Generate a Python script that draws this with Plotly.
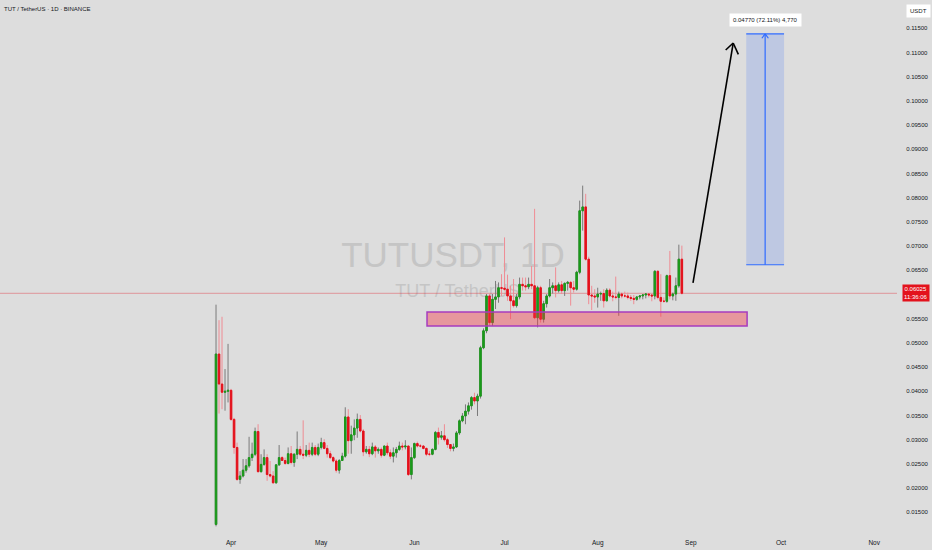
import pandas as pd
import plotly.graph_objects as go

# TUT/USDT daily candles, 2025-03-27 .. 2025-08-29
first_open = 0.0125
close = [
    0.0477, 0.0415, 0.0398, 0.0400, 0.0402,
    0.0342, 0.0284, 0.0218, 0.0225, 0.0237, 0.0246, 0.0263, 0.0270, 0.0317, 0.0234,
    0.0249, 0.0263, 0.0228, 0.0225, 0.0211, 0.0248, 0.0263, 0.0257, 0.0251, 0.0271,
    0.0253, 0.0270, 0.0280, 0.0270, 0.0268, 0.0278, 0.0270, 0.0284, 0.0270, 0.0284,
    0.0294, 0.0282, 0.0271, 0.0263, 0.0256, 0.0237, 0.0257, 0.0266, 0.0347, 0.0298,
    0.0310, 0.0324, 0.0342, 0.0318, 0.0275, 0.0280, 0.0271, 0.0285, 0.0277, 0.0280,
    0.0268, 0.0287, 0.0273, 0.0266, 0.0273, 0.0280, 0.0287, 0.0285, 0.0287, 0.0228, 0.0263,
    0.0292, 0.0287, 0.0287, 0.0282, 0.0270, 0.0270, 0.0280, 0.0315, 0.0305, 0.0308,
    0.0300, 0.0290, 0.0282, 0.0285, 0.0314, 0.0339, 0.0349, 0.0359, 0.0370, 0.0387,
    0.0380, 0.0390, 0.0490, 0.0525, 0.0597, 0.0542, 0.0590, 0.0595, 0.0614, 0.0613,
    0.0611, 0.0597, 0.0587, 0.0577, 0.0595, 0.0621, 0.0618, 0.0616, 0.0621, 0.0618,
    0.0552, 0.0614, 0.0549, 0.0581, 0.0597, 0.0614, 0.0618, 0.0608, 0.0620, 0.0608,
    0.0623, 0.0625, 0.0614, 0.0611, 0.0646, 0.0773, 0.0781, 0.0673, 0.0599, 0.0597, 0.0595,
    0.0601, 0.0602, 0.0587, 0.0609, 0.0597, 0.0595, 0.0594, 0.0601, 0.0597, 0.0597,
    0.0594, 0.0592, 0.0590, 0.0595, 0.0597, 0.0599, 0.0601, 0.0599, 0.0597, 0.0648,
    0.0594, 0.0586, 0.0586, 0.0639, 0.0597, 0.0601, 0.0618, 0.0673, 0.06025,
]
high = [
    0.0579, 0.0547, 0.0554, 0.0446, 0.0498,
    0.0405, 0.0345, 0.0294, 0.0235, 0.0260, 0.0260, 0.0306, 0.0294, 0.0325, 0.0332,
    0.0270, 0.0280, 0.0270, 0.0256, 0.0235, 0.0249, 0.0289, 0.0266, 0.0263, 0.0284,
    0.0287, 0.0272, 0.0317, 0.0287, 0.0340, 0.0289, 0.0294, 0.0294, 0.0289, 0.0292,
    0.0304, 0.0301, 0.0289, 0.0277, 0.0266, 0.0260, 0.0260, 0.0273, 0.0367, 0.0363,
    0.0329, 0.0342, 0.0354, 0.0351, 0.0322, 0.0287, 0.0287, 0.0294, 0.0289, 0.0284,
    0.0284, 0.0287, 0.0294, 0.0280, 0.0284, 0.0285, 0.0296, 0.0294, 0.0299, 0.0287, 0.0284,
    0.0294, 0.0296, 0.0291, 0.0289, 0.0284, 0.0277, 0.0282, 0.0318, 0.0325, 0.0318,
    0.0332, 0.0304, 0.0290, 0.0292, 0.0318, 0.0342, 0.0355, 0.0373, 0.0377, 0.0390,
    0.0397, 0.0395, 0.0494, 0.0530, 0.0601, 0.0601, 0.0601, 0.0628, 0.0625, 0.0642,
    0.0718, 0.0641, 0.0618, 0.0632, 0.0601, 0.0635, 0.0635, 0.0635, 0.0635, 0.0659,
    0.0777, 0.0618, 0.0618, 0.0587, 0.0601, 0.0632, 0.0625, 0.0656, 0.0625, 0.0628,
    0.0625, 0.0628, 0.0628, 0.0628, 0.0649, 0.0794, 0.0825, 0.0808, 0.0678, 0.0618, 0.0611,
    0.0614, 0.0606, 0.0611, 0.0613, 0.0613, 0.0606, 0.0637, 0.0606, 0.0604, 0.0606,
    0.0604, 0.0599, 0.0599, 0.0597, 0.0599, 0.0601, 0.0602, 0.0602, 0.0601, 0.0650,
    0.0650, 0.0642, 0.0594, 0.0641, 0.0690, 0.0604, 0.0635, 0.0703, 0.0701,
]
low = [
    0.0121, 0.0354, 0.0363, 0.0360, 0.0377,
    0.0339, 0.0271, 0.0215, 0.0209, 0.0222, 0.0232, 0.0242, 0.0256, 0.0266, 0.0232,
    0.0232, 0.0246, 0.0215, 0.0222, 0.0209, 0.0209, 0.0246, 0.0256, 0.0248, 0.0249,
    0.0249, 0.0244, 0.0260, 0.0266, 0.0260, 0.0264, 0.0264, 0.0266, 0.0266, 0.0266,
    0.0280, 0.0280, 0.0263, 0.0260, 0.0253, 0.0232, 0.0230, 0.0256, 0.0263, 0.0271,
    0.0271, 0.0299, 0.0304, 0.0315, 0.0266, 0.0271, 0.0264, 0.0268, 0.0263, 0.0271,
    0.0263, 0.0266, 0.0268, 0.0260, 0.0253, 0.0263, 0.0277, 0.0278, 0.0280, 0.0225, 0.0218,
    0.0260, 0.0284, 0.0284, 0.0280, 0.0266, 0.0266, 0.0268, 0.0278, 0.0290, 0.0300,
    0.0296, 0.0283, 0.0276, 0.0276, 0.0283, 0.0310, 0.0336, 0.0332, 0.0352, 0.0362,
    0.0373, 0.0349, 0.0385, 0.0487, 0.0520, 0.0535, 0.0535, 0.0570, 0.0583, 0.0597,
    0.0608, 0.0587, 0.0549, 0.0573, 0.0573, 0.0590, 0.0608, 0.0608, 0.0611, 0.0611,
    0.0549, 0.0532, 0.0542, 0.0542, 0.0573, 0.0594, 0.0602, 0.0594, 0.0604, 0.0601,
    0.0597, 0.0608, 0.0577, 0.0604, 0.0608, 0.0642, 0.0732, 0.0670, 0.0580, 0.0568, 0.0583,
    0.0573, 0.0587, 0.0573, 0.0586, 0.0594, 0.0586, 0.0590, 0.0556, 0.0592, 0.0594,
    0.0590, 0.0587, 0.0580, 0.0587, 0.0590, 0.0590, 0.0592, 0.0594, 0.0586, 0.0590,
    0.0590, 0.0554, 0.0583, 0.0583, 0.0590, 0.0588, 0.0587, 0.0614, 0.0600,
]
start_date = "2025-03-27"

# drawings on the chart
last_price = 0.06025
countdown = "11:36:06"
zone_dates = ["2025-06-05 05:00", "2025-09-19 17:00"]
zone_prices = [0.05349, 0.05638]
target_dates = ["2025-09-19 10:00", "2025-10-02 00:00"]
target_prices = [0.06615, 0.11385]
target_label = "0.04770 (72.11%) 4,770"
arrow_dates = ["2025-09-01 17:00", "2025-09-15 02:00"]
arrow_prices = [0.06238, 0.11196]
arrow_wing_dates = ["2025-09-12 14:00", "2025-09-16 19:00"]
arrow_wing_prices = [0.11052, 0.10963]

month_ticks = ["2025-04-01", "2025-05-01", "2025-06-01", "2025-07-01",
               "2025-08-01", "2025-09-01", "2025-10-01", "2025-11-01"]
month_labels = ["Apr", "May", "Jun", "Jul", "Aug", "Sep", "Oct", "Nov"]
# 0.06000 is hidden behind the last-price tag on the original
price_labels = ["0.01500", "0.02000", "0.02500", "0.03000", "0.03500", "0.04000",
                "0.04500", "0.05000", "0.05500", "0.06500", "0.07000",
                "0.07500", "0.08000", "0.08500", "0.09000", "0.09500", "0.10000",
                "0.10500", "0.11000", "0.11500"]

BG = "#dddddd"
UP = "#1b9a1b"
DOWN = "#e3121c"
FONT = "Liberation Sans, Arial, sans-serif"

dates = pd.date_range(start_date, periods=len(close), freq="D")
opens = [first_open] + close[:-1]
body_hi = [max(o, c) for o, c in zip(opens, close)]
body_lo = [min(o, c) for o, c in zip(opens, close)]

fig = go.Figure()
# wicks (grey for up days, pink for down days)
fig.add_trace(go.Candlestick(
    x=dates, open=opens, high=high, low=low, close=close,
    increasing=dict(line=dict(color="#7a7a7a", width=1), fillcolor=UP),
    decreasing=dict(line=dict(color="#ef8c94", width=1), fillcolor=DOWN),
    whiskerwidth=0, hoverinfo="skip"))
# bodies on top
fig.add_trace(go.Candlestick(
    x=dates, open=opens, high=body_hi, low=body_lo, close=close,
    increasing=dict(line=dict(color=UP, width=1), fillcolor=UP),
    decreasing=dict(line=dict(color=DOWN, width=1), fillcolor=DOWN),
    whiskerwidth=0))

mid_target = pd.Timestamp(target_dates[0]) + (pd.Timestamp(target_dates[1]) - pd.Timestamp(target_dates[0])) / 2

shapes = [
    # watermark
    dict(type="rect", xref="paper", yref="paper", x0=0.25, x1=0.76, y0=0.48, y1=0.575,
         line=dict(width=0), fillcolor="rgba(0,0,0,0)", layer="below",
         label=dict(text="TUTUSDT, 1D", font=dict(size=35, color="#c5c5c5", family=FONT),
                    textposition="middle center")),
    dict(type="rect", xref="paper", yref="paper", x0=0.355, x1=0.665, y0=0.43, y1=0.485,
         line=dict(width=0), fillcolor="rgba(0,0,0,0)", layer="below",
         label=dict(text="TUT / TetherUS", font=dict(size=18, color="#c5c5c5", family=FONT),
                    textposition="middle center")),
    # last price line
    dict(type="line", xref="paper", x0=0, x1=1, yref="y", y0=last_price, y1=last_price,
         line=dict(color="rgba(227,18,28,0.35)", width=1), layer="below"),
    # support zone
    dict(type="rect", x0=zone_dates[0], x1=zone_dates[1], y0=zone_prices[0], y1=zone_prices[1],
         fillcolor="rgba(242,54,69,0.42)", line=dict(color="#a63cbf", width=1.5)),
    # target box
    dict(type="rect", x0=target_dates[0], x1=target_dates[1], y0=target_prices[0], y1=target_prices[1],
         fillcolor="rgba(41,98,255,0.17)", line=dict(width=0)),
    dict(type="line", x0=target_dates[0], x1=target_dates[1], y0=target_prices[0], y1=target_prices[0],
         line=dict(color="#2f6bff", width=1.2)),
    dict(type="line", x0=target_dates[0], x1=target_dates[1], y0=target_prices[1], y1=target_prices[1],
         line=dict(color="#2f6bff", width=1.2)),
    dict(type="line", x0=mid_target, x1=mid_target, y0=target_prices[0], y1=target_prices[1],
         line=dict(color="#2f6bff", width=1.2)),
    dict(type="line", x0=mid_target - pd.Timedelta(hours=26), x1=mid_target,
         y0=target_prices[1] - 0.0009, y1=target_prices[1], line=dict(color="#2f6bff", width=1.2)),
    dict(type="line", x0=mid_target + pd.Timedelta(hours=26), x1=mid_target,
         y0=target_prices[1] - 0.0009, y1=target_prices[1], line=dict(color="#2f6bff", width=1.2)),
    # projection arrow
    dict(type="line", x0=arrow_dates[0], x1=arrow_dates[1], y0=arrow_prices[0], y1=arrow_prices[1],
         line=dict(color="#000000", width=1.6)),
    dict(type="line", x0=arrow_wing_dates[0], x1=arrow_dates[1], y0=arrow_wing_prices[0], y1=arrow_prices[1],
         line=dict(color="#000000", width=1.6)),
    dict(type="line", x0=arrow_wing_dates[1], x1=arrow_dates[1], y0=arrow_wing_prices[1], y1=arrow_prices[1],
         line=dict(color="#000000", width=1.6)),
]

annotations = [
    dict(text="TUT / TetherUS · 1D · BINANCE", xref="paper", yref="paper", x=0, y=1,
         xanchor="left", yanchor="top", xshift=2, yshift=-4, showarrow=False,
         font=dict(size=6, color="#131722", family=FONT)),
    dict(text="USDT", xref="paper", yref="paper", x=1, y=1, xanchor="left", yanchor="top",
         xshift=9, yshift=-4, showarrow=False, bgcolor="#ffffff", borderpad=3,
         font=dict(size=6, color="#131722", family=FONT)),
    dict(text=f"{last_price:.5f}<br>{countdown}", xref="paper", yref="y", x=1, y=last_price,
         xanchor="left", xshift=5, showarrow=False, bgcolor=DOWN, borderpad=1,
         font=dict(size=6, color="#ffffff", family=FONT)),
    dict(text=target_label, x=mid_target, y=0.1167, showarrow=False, bgcolor="#ffffff",
         borderpad=3, font=dict(size=6, color="#131722", family=FONT)),
]

fig.update_layout(
    width=932, height=550,
    margin=dict(l=0, r=35, t=0, b=18),
    paper_bgcolor=BG, plot_bgcolor=BG,
    showlegend=False,
    shapes=shapes,
    annotations=annotations,
    xaxis=dict(type="date", range=["2025-01-14 03:00", "2025-11-08 14:00"],
               tickvals=month_ticks, ticktext=month_labels,
               showgrid=False, zeroline=False, showline=False,
               ticks="outside", ticklen=4, tickcolor=BG,
               tickfont=dict(size=6.5, color="#131722", family=FONT),
               rangeslider=dict(visible=False)),
    yaxis=dict(side="right", range=[0.01093, 0.12085],
               tickvals=[float(s) for s in price_labels], ticktext=price_labels,
               showgrid=False, zeroline=False, showline=False,
               ticks="outside", ticklen=7, tickcolor=BG,
               tickfont=dict(size=6, color="#131722", family=FONT)),
)

# drop the default page margin so the 932x550 figure fills the window
fig.write_html("out.html", config={"displayModeBar": False},
               post_script="document.body.style.margin='0';")
